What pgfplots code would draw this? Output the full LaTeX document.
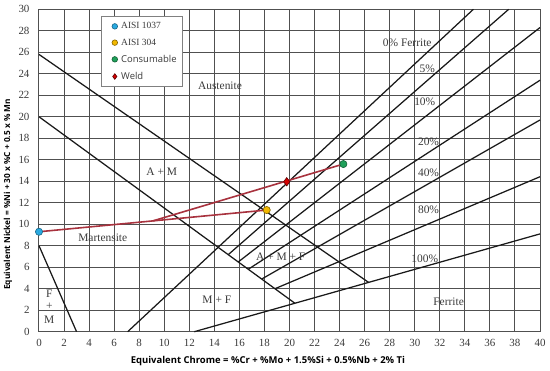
\documentclass[border=0pt]{standalone}
\usepackage{fontspec}
\setmainfont{Liberation Serif}
\newfontfamily\osans{Open Sans}
\usepackage{pgfplots}
\pgfplotsset{compat=1.18}
\definecolor{gridc}{HTML}{505050}
\definecolor{redline}{HTML}{A8323E}
\definecolor{c1037}{HTML}{29A9E0}
\definecolor{c304}{HTML}{F2B800}
\definecolor{ccons}{HTML}{1FA05A}
\definecolor{cweld}{HTML}{D40000}
\definecolor{txt}{HTML}{3A3A3A}
\begin{document}
\begin{tikzpicture}
\useasboundingbox (-39bp,-39.3bp) rectangle (511bp,331.7bp);
\begin{axis}[
  scale only axis, width=501bp, height=322.4bp,
  xmin=0, xmax=40, ymin=0, ymax=30,
  xtick={0,2,...,40}, ytick={0,2,...,30},
  grid=major, major grid style={gridc, line width=1bp},
  axis line style={gridc, line width=1bp},
  tick style={draw=none},
  /pgf/number format/assume math mode=true,
  ticklabel style={font=\fontsize{11}{12}\selectfont, text=txt},
  xticklabel style={yshift=-4bp},
  yticklabel style={xshift=-6bp},
  xlabel={Equivalent Chrome = \%Cr + \%Mo + 1.5\%Si + 0.5\%Nb + 2\% Ti},
  ylabel={Equivalent Nickel = \%Ni + 30 x \%C + 0.5 x \% Mn},
  xlabel style={font=\osans\bfseries\fontsize{9.5}{11}\selectfont, at={(axis description cs:0.457,-0.0924)}, anchor=center},
  ylabel style={font=\osans\bfseries\fontsize{8.3}{10}\selectfont, at={(axis description cs:-0.0619,0.4256)}, anchor=center},
  clip=false,
  legend cell align=left,
  legend image code/.code={\path (-9bp,0) (4bp,0); \draw[#1, mark size=2.8bp] plot coordinates {(0bp,0bp)};},
  legend style={at={(axis cs:4.95,29.37)}, anchor=north west, draw=gray, line width=0.8bp, fill=white,
    inner xsep=4bp, inner ysep=4bp, row sep=4.5bp, font=\fontsize{9.5}{10.5}\selectfont, text=txt},
]
% phase boundaries
\addplot[black!90, line width=1.25bp, forget plot] coordinates {(0,25.8) (26.3,4.6)};
\addplot[black!90, line width=1.25bp, forget plot] coordinates {(0,20) (20.44,2.64)};
\addplot[black!90, line width=1.25bp, forget plot] coordinates {(0,8) (3,0)};
\addplot[black!90, line width=1.25bp, forget plot] coordinates {(7.08,0) (34.68,30)};
\addplot[black!90, line width=1.25bp, forget plot] coordinates {(15.11,7.17) (37.5,30)};
\addplot[black!90, line width=1.25bp, forget plot] coordinates {(15.91,6.49) (40,28.3)};
\addplot[black!90, line width=1.25bp, forget plot] coordinates {(16.71,5.81) (40,23.4)};
\addplot[black!90, line width=1.25bp, forget plot] coordinates {(17.78,4.90) (40,19.7)};
\addplot[black!90, line width=1.25bp, forget plot] coordinates {(18.84,4.00) (40,14.42)};
\addplot[black!90, line width=1.25bp, forget plot] coordinates {(12.4,0) (40,9.1)};
% dilution lines
\addplot[redline, line width=1.6bp, forget plot] coordinates {(0,9.3) (18.18,11.32)};
\addplot[redline, line width=1.6bp, forget plot] coordinates {(9.09,10.31) (24.3,15.6)};
% points
\addplot[only marks, mark=*, mark size=3.6bp, mark options={fill=c1037, draw=c1037!60!black, line width=0.6bp}] coordinates {(0,9.3)};
\addlegendentry{\rmfamily AISI 1037}
\addplot[only marks, mark=*, mark size=3.6bp, mark options={fill=c304, draw=c304!55!black, line width=0.6bp}] coordinates {(18.18,11.32)};
\addlegendentry{\rmfamily AISI 304}
\addplot[only marks, mark=*, mark size=3.6bp, mark options={fill=ccons, draw=ccons!60!black, line width=0.6bp}] coordinates {(24.3,15.6)};
\addlegendentry{\osans Consumable}
\addplot[only marks, mark=diamond*, mark size=4.2bp, mark options={fill=cweld, draw=cweld!45!black, line width=0.6bp}] coordinates {(19.78,13.95)};
\addlegendentry{\osans Weld}
% region labels
\begin{scope}[every node/.style={font=\fontsize{11.5}{12}\selectfont, text=txt, inner sep=0pt}]
\node at (axis cs:14.45,22.86) {Austenite};
\node at (axis cs:9.8,14.9) {A + M};
\node at (axis cs:5.09,8.78) {Martensite};
\node at (axis cs:0.82,3.5) {F};
\node at (axis cs:0.82,2.33) {+};
\node at (axis cs:0.82,1.09) {M};
\node at (axis cs:14.2,2.95) {M + F};
\node at (axis cs:19.3,7.0) {A + M + F};
\node at (axis cs:32.7,2.8) {Ferrite};
\node at (axis cs:30.8,6.8) {100\%};
\node at (axis cs:31.1,11.3) {80\%};
\node at (axis cs:31.1,14.8) {40\%};
\node at (axis cs:31.1,17.7) {20\%};
\node at (axis cs:30.8,21.4) {10\%};
\node at (axis cs:31.0,24.5) {5\%};
\node at (axis cs:29.4,26.9) {0\% Ferrite};
\end{scope}
\end{axis}
\end{tikzpicture}
\end{document}
